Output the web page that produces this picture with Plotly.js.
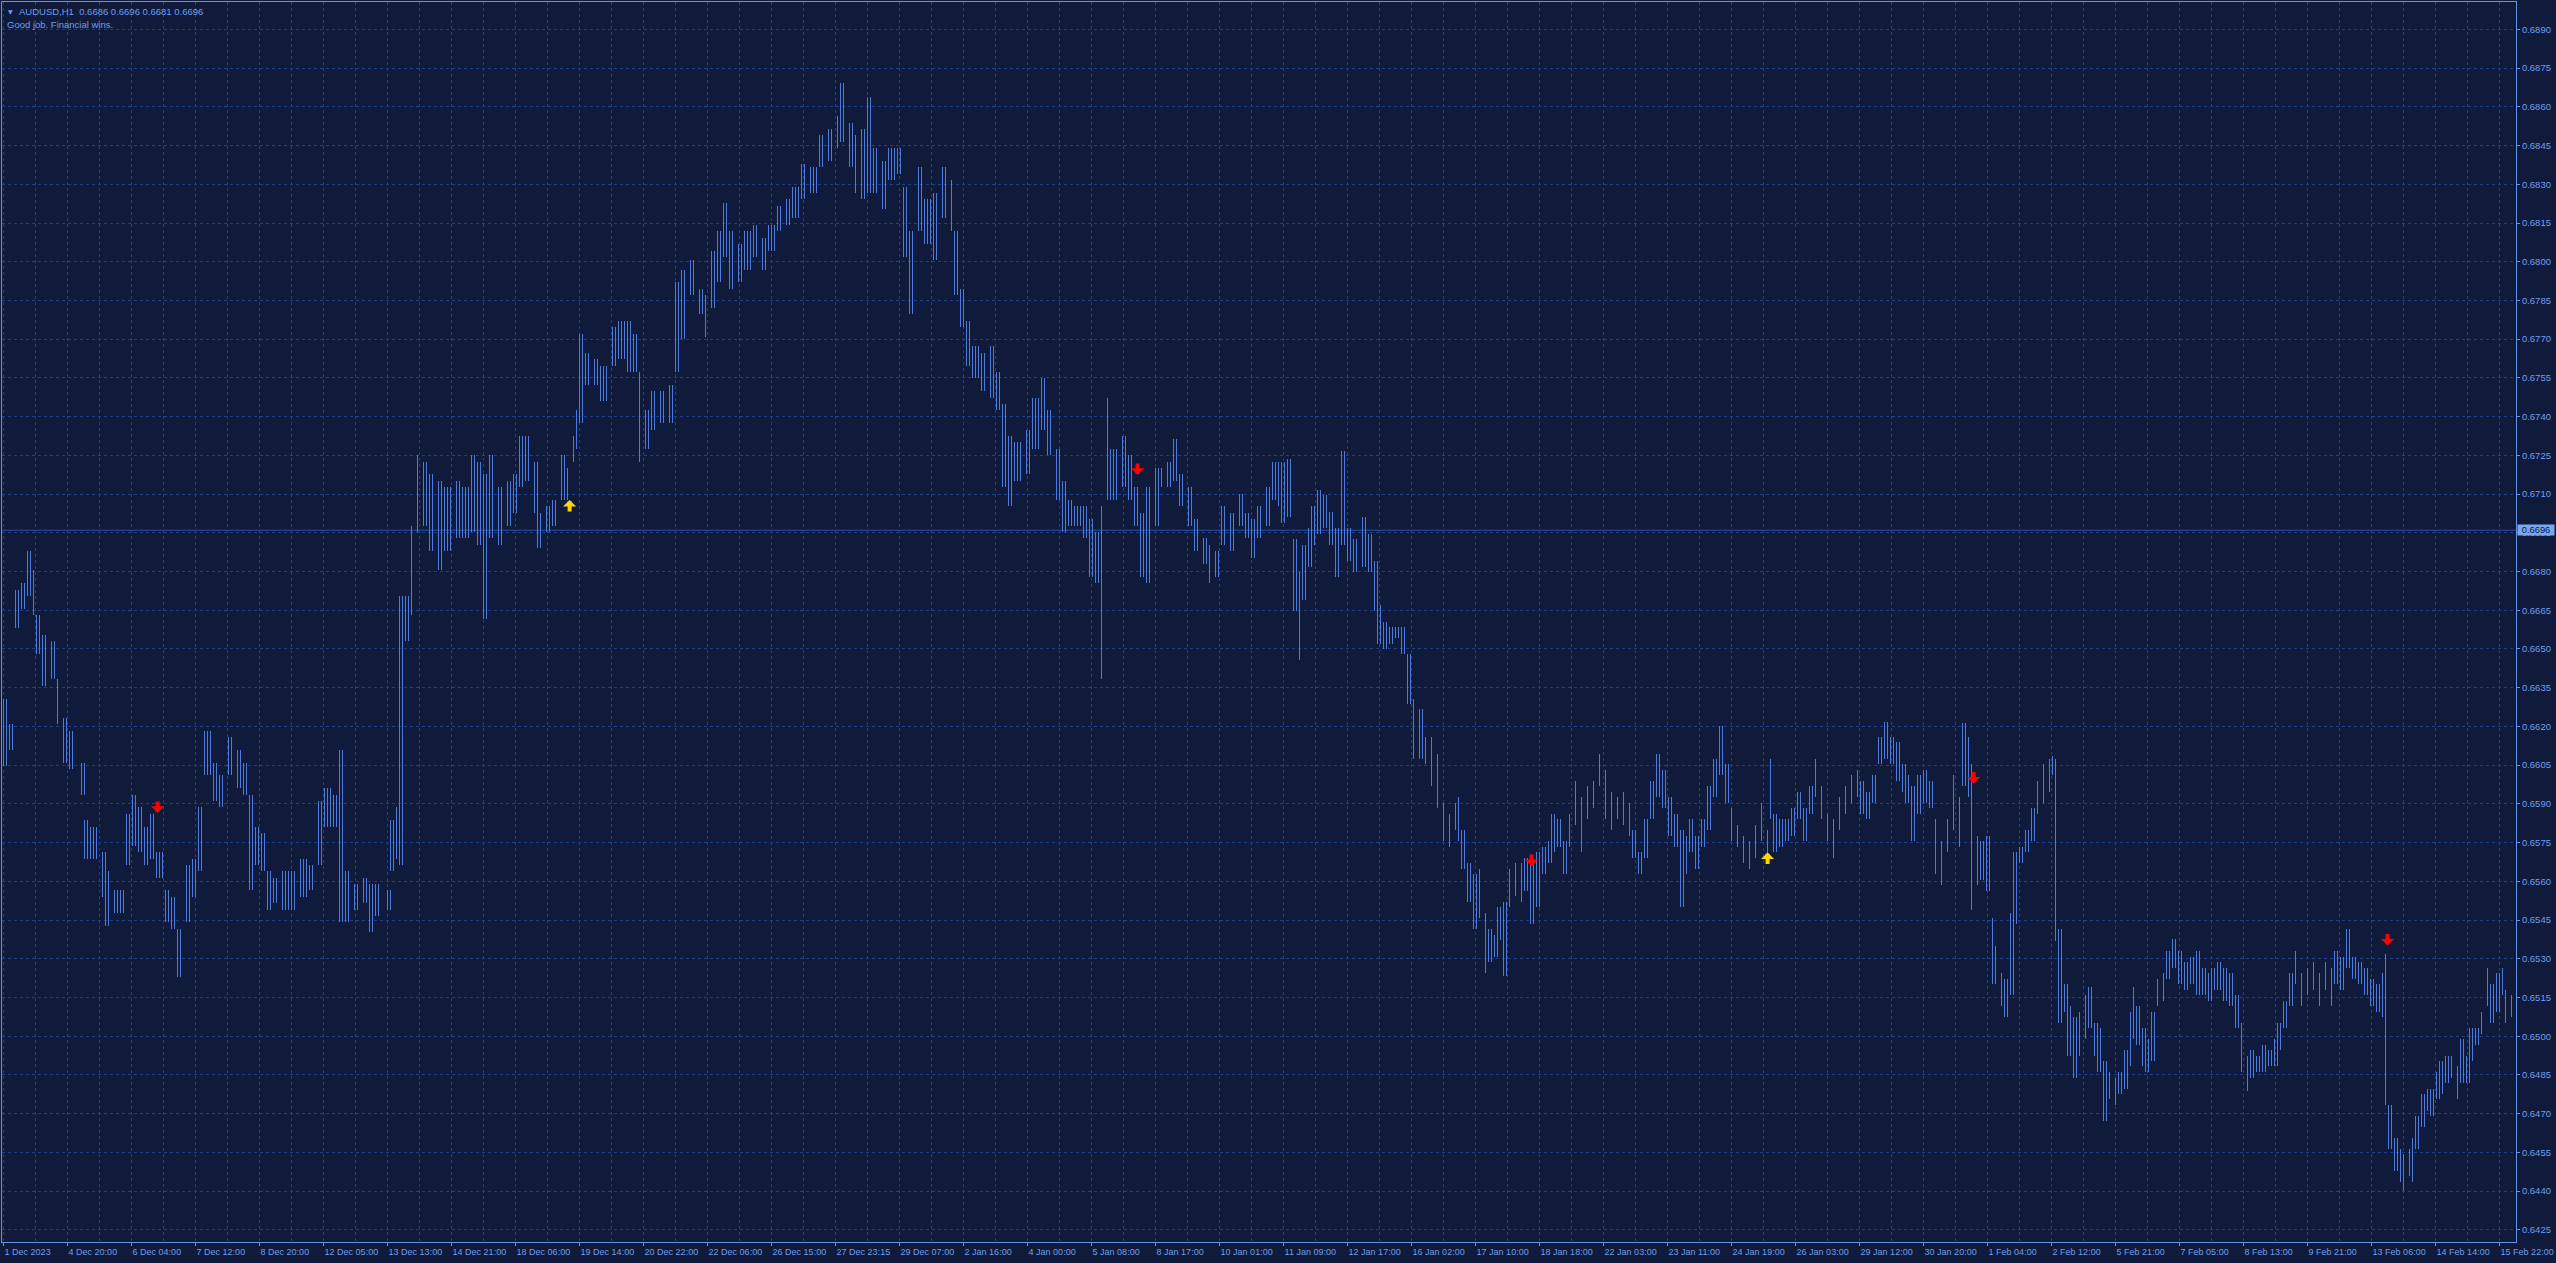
<!DOCTYPE html>
<html><head><meta charset="utf-8">
<script src="https://cdn.plot.ly/plotly-3.0.1.min.js"></script>
<style>html,body{margin:0;padding:0;background:#101a3a;overflow:hidden}#chart{width:2556px;height:1263px}</style>
</head><body><div id="chart"></div>
<script>
// ---- header / last bar ----
const symbolName = "AUDUSD,H1";
const lastOpen = 0.6686, lastHigh = 0.6696, lastLow = 0.6681, lastClose = 0.6696;
const lastPrice = 0.6696;
const commentText = "Good job. Financial wins.";

// ---- time axis labels (one every 32 hourly bars) ----
const xTickLabels = ["1 Dec 2023","4 Dec 20:00","6 Dec 04:00","7 Dec 12:00","8 Dec 20:00","12 Dec 05:00","13 Dec 13:00","14 Dec 21:00","18 Dec 06:00","19 Dec 14:00","20 Dec 22:00","22 Dec 06:00","26 Dec 15:00","27 Dec 23:15","29 Dec 07:00","2 Jan 16:00","4 Jan 00:00","5 Jan 08:00","8 Jan 17:00","10 Jan 01:00","11 Jan 09:00","12 Jan 17:00","16 Jan 02:00","17 Jan 10:00","18 Jan 18:00","22 Jan 03:00","23 Jan 11:00","24 Jan 19:00","26 Jan 03:00","29 Jan 12:00","30 Jan 20:00","1 Feb 04:00","2 Feb 12:00","5 Feb 21:00","7 Feb 05:00","8 Feb 13:00","9 Feb 21:00","13 Feb 06:00","14 Feb 14:00","15 Feb 22:00"];
const barsPerLabel = 32;

// ---- price axis labels ----
const yTickValues = [0.6425,0.6440,0.6455,0.6470,0.6485,0.6500,0.6515,0.6530,0.6545,0.6560,0.6575,0.6590,0.6605,0.6620,0.6635,0.6650,0.6665,0.6680,0.6695,0.6710,0.6725,0.6740,0.6755,0.6770,0.6785,0.6800,0.6815,0.6830,0.6845,0.6860,0.6875,0.6890];

// ---- price series: bar index of sample, sample high, sample low ----
const sampleBar = [0,4,7,10,13,15,17,20,24,27,30,34,39,41,45,50,52,56,59,62,65,68,71,74,78,82,85,88,92,95,98,102,106,109,113,118,121,124,127,130,133,136,140,144,150,154,158,162,166,169,172,176,180,183,187,192,194,197,199,202,204,207,210,214,218,222,227,231,235,238,241,244,248,252,255,259,262,266,268,272,275,279,282,285,287,289,292,296,300,305,309,313,316,318,321,325,329,333,336,340,344,348,351,354,358,361,364,368,372,376,380,384,388,392,396,400,405,409,413,417,419,423,426,429,433,436,440,444,448,451,454,458,462,466,470,474,476,479,482,486,490,494,497,500,503,507,512,516,520,523,527,530,533,537,541,544,547,549,552,555,560,563,566,569,572,576,579,582,586,589,593,596,600,603,606,610,614,618,621,625,628,632,635,638,
640,643,646,648,650,653,655,658,661,664,667,670,673,676,680,683,686,688,691,694,697,700,703,705,709,711,714,717,720,723,726,728,730,733,736,738,741,743,746,748,751,753,756,759,761,764,767,770,773,775,778,781,783,786,789,792,795,798,801,804,807,810,813,815,818,821,824,827,830,833,836,839,841,844,847,850,853,856,859,862,864,867,870,873,876,879,882,884,886,889,892,895,898,901,904,906,909,912,915,918,921,924,927,929,932,935,938,941,944,947,950,952,955,958,961,964,966,969,972,975,978,980,983,984,987,989,992,994,996,999,1001,1004,1006,1009,1012,1015,1017,1020,1023,1025,1026,1028,1031,1033,1036,1038,1041,1043,1046,1048,1051,1053,1056,1058,1061,1063,1065,1067,1070,1072,1075,1077,1080,1082,1085,1088,1091,1094,1097,1100,1103,1105,1108,1111,1114,1117,1119,1122,1124,1127,1130,1133,1136,1138,1141,1144,1146,1149,1152,1155,1158,1161,1164,1166,1169,1172,1175,1178,1181,1184,1187,1189,1191,1193,1196,1198,1200,1203,1205,1207,1210,1212,1214,1217,1219,1222,1224,1227,1229,1232,1234,1237,1239,1242,1244,1247,1249,1251,1254];

const sampleHigh = [0.66308,0.66209,0.66730,0.66754,0.66878,0.66804,0.66630,0.66556,0.66531,0.66383,0.66234,0.66184,0.66060,0.65837,0.65812,0.65713,0.65639,0.65565,0.65565,0.65862,0.65936,0.65887,0.65812,0.65862,0.65713,0.65565,0.65540,0.65416,0.65664,0.65688,0.65887,0.66184,0.66060,0.66011,0.66159,0.66110,0.66060,0.65936,0.65812,0.65787,0.65639,0.65614,0.65639,0.65639,0.65688,0.65664,0.65911,0.65961,0.65936,0.66110,0.65639,0.65589,0.65614,0.65589,0.65589,0.65565,0.65837,0.65887,0.66705,0.66705,0.66978,0.67250,0.67225,0.67176,0.67151,0.67126,0.67151,0.67126,0.67250,0.67225,0.67176,0.67250,0.67126,0.67151,0.67176,0.67325,0.67325,0.67225,0.67027,0.67052,0.67077,0.67250,0.67201,0.67325,0.67424,0.67721,0.67647,0.67622,0.67597,0.67746,0.67771,0.67771,0.67721,0.67572,0.67424,0.67498,0.67498,0.67523,0.67920,0.67969,0.68006,0.67895,0.67870,0.68043,0.68118,0.68229,0.68118,0.68068,0.68118,0.68143,0.68093,0.68143,0.68217,0.68242,0.68291,0.68378,0.68366,0.68490,0.68514,0.68564,0.68693,0.68539,0.68490,0.68514,0.68638,0.68440,0.68391,0.68440,0.68440,0.68291,0.68118,0.68366,0.68242,0.68267,0.68366,0.68316,0.68118,0.67895,0.67771,0.67672,0.67647,0.67672,0.67572,0.67449,0.67325,0.67300,0.67350,0.67473,0.67550,0.67424,0.67275,0.67151,0.67077,0.67052,0.67052,0.67002,0.66953,0.67052,0.67473,0.67275,0.67325,0.67250,0.67126,0.67027,0.67126,0.67201,0.67201,0.67225,0.67312,0.67176,0.67126,0.67002,0.66928,0.66903,0.66878,0.67052,0.67027,0.67102,0.67027,0.67002,0.67052,0.67126,0.67225,0.67225,
0.67223,0.67234,0.66925,0.66798,0.66904,0.66968,0.67053,0.67117,0.67096,0.67032,0.66968,0.67266,0.66968,0.66925,0.67011,0.66947,0.66840,0.66670,0.66606,0.66585,0.66585,0.66585,0.66479,0.66308,0.66266,0.66159,0.66159,0.66095,0.65904,0.65861,0.65904,0.65925,0.65798,0.65670,0.65627,0.65649,0.65478,0.65415,0.65393,0.65500,0.65521,0.65649,0.65670,0.65670,0.65691,0.65670,0.65712,0.65734,0.65755,0.65861,0.65840,0.65755,0.65861,0.65989,0.65925,0.65968,0.65989,0.66095,0.66031,0.65946,0.65925,0.65946,0.65904,0.65798,0.65712,0.65840,0.65989,0.66095,0.66031,0.65925,0.65861,0.65798,0.65776,0.65840,0.65776,0.65840,0.65968,0.66074,0.66202,0.66053,0.65883,0.65819,0.65776,0.65755,0.65819,0.65904,0.65798,0.66074,0.65861,0.65840,0.65840,0.65883,0.65946,0.65883,0.65968,0.66074,0.65968,0.65861,0.65840,0.65925,0.65968,0.66010,0.66031,0.65989,0.65946,0.66010,0.66159,0.66219,0.66159,0.66138,0.66053,0.66010,0.65968,0.66010,0.66031,0.65989,0.65840,0.65755,0.65840,0.66010,0.65925,0.66212,0.66159,0.66053,0.65776,0.65755,0.65776,0.65457,0.65351,0.65244,0.65223,0.65478,0.65712,0.65734,0.65798,0.65883,0.65989,0.66053,0.66074,0.66084,0.66074,0.65415,0.65202,0.65117,0.65074,0.65095,0.65159,0.65191,0.65053,0.65032,0.64904,0.64861,0.64840,0.64861,0.64946,0.65095,0.65191,0.65117,0.65032,0.64989,0.65095,0.65223,0.65244,0.65329,0.65378,0.65329,0.65287,0.65308,0.65329,0.65266,0.65244,0.65266,0.65287,0.65266,0.65244,0.65159,0.65053,0.64925,0.64946,0.64925,0.64968,0.64946,0.64989,0.65053,0.65138,0.65244,0.65329,0.65244,0.65266,0.65287,0.65244,0.65287,0.65266,0.65329,0.65308,0.65415,0.65308,0.65287,0.65266,0.65223,0.65202,0.65244,0.65319,0.64734,0.64606,0.64563,0.64542,0.64563,0.64606,0.64691,0.64776,0.64797,0.64797,0.64861,0.64904,0.64925,0.64925,0.64883,0.64989,0.64925,0.65032,0.65032,0.65095,0.65266,0.65202,0.65244,0.65266,0.65181,0.65159];

const sampleLow = [0.66048,0.66110,0.66580,0.66655,0.66705,0.66630,0.66482,0.66358,0.66383,0.66209,0.66060,0.66035,0.65936,0.65688,0.65688,0.65540,0.65428,0.65478,0.65478,0.65664,0.65738,0.65713,0.65664,0.65688,0.65614,0.65441,0.65416,0.65230,0.65441,0.65540,0.65639,0.66011,0.65911,0.65887,0.66011,0.65961,0.65936,0.65565,0.65664,0.65639,0.65490,0.65515,0.65490,0.65490,0.65540,0.65565,0.65664,0.65812,0.65812,0.65441,0.65441,0.65490,0.65515,0.65403,0.65466,0.65490,0.65639,0.65688,0.65664,0.66531,0.66630,0.66953,0.66978,0.66878,0.66804,0.66878,0.66928,0.66928,0.66953,0.66903,0.66618,0.66928,0.66903,0.66978,0.67027,0.67126,0.67151,0.67027,0.66891,0.66953,0.66978,0.67077,0.67077,0.67225,0.67275,0.67374,0.67523,0.67523,0.67461,0.67597,0.67622,0.67572,0.67572,0.67225,0.67275,0.67350,0.67374,0.67374,0.67572,0.67700,0.67870,0.67796,0.67709,0.67820,0.67920,0.68018,0.67895,0.67920,0.67969,0.68018,0.67969,0.68043,0.68118,0.68143,0.68168,0.68242,0.68267,0.68366,0.68391,0.68440,0.68465,0.68366,0.68267,0.68242,0.68267,0.68267,0.68205,0.68316,0.68341,0.68018,0.67796,0.68118,0.68068,0.68006,0.68168,0.68118,0.67870,0.67746,0.67597,0.67550,0.67498,0.67473,0.67424,0.67126,0.67052,0.67151,0.67176,0.67275,0.67350,0.67250,0.67077,0.66953,0.66978,0.66978,0.66928,0.66779,0.66754,0.66383,0.67077,0.67077,0.67126,0.67077,0.66978,0.66779,0.66754,0.66978,0.67126,0.67126,0.67151,0.67052,0.66978,0.66878,0.66829,0.66754,0.66779,0.66903,0.66878,0.66978,0.66928,0.66853,0.66928,0.66978,0.67077,0.67052,
0.66989,0.67011,0.66649,0.66457,0.66691,0.66819,0.66904,0.66947,0.66968,0.66904,0.66777,0.66904,0.66840,0.66798,0.66819,0.66798,0.66649,0.66521,0.66500,0.66521,0.66543,0.66479,0.66287,0.66074,0.66074,0.66053,0.65968,0.65883,0.65755,0.65734,0.65798,0.65755,0.65649,0.65521,0.65415,0.65457,0.65244,0.65287,0.65308,0.65372,0.65234,0.65500,0.65542,0.65521,0.65564,0.65436,0.65500,0.65627,0.65670,0.65712,0.65734,0.65627,0.65734,0.65819,0.65712,0.65840,0.65883,0.65968,0.65840,0.65798,0.65840,0.65819,0.65776,0.65691,0.65627,0.65691,0.65840,0.65925,0.65883,0.65776,0.65734,0.65500,0.65627,0.65712,0.65649,0.65734,0.65798,0.65925,0.66010,0.65904,0.65755,0.65734,0.65670,0.65649,0.65691,0.65755,0.65691,0.65840,0.65712,0.65734,0.65755,0.65776,0.65840,0.65755,0.65861,0.65925,0.65840,0.65755,0.65691,0.65798,0.65861,0.65904,0.65925,0.65861,0.65840,0.65904,0.66053,0.66074,0.66053,0.65989,0.65946,0.65904,0.65755,0.65861,0.65904,0.65883,0.65627,0.65585,0.65712,0.65798,0.65734,0.65968,0.65925,0.65489,0.65585,0.65606,0.65564,0.65202,0.65202,0.65117,0.65074,0.65159,0.65436,0.65670,0.65712,0.65755,0.65861,0.65904,0.65946,0.66010,0.65370,0.65053,0.65095,0.64925,0.64840,0.64925,0.64989,0.65032,0.64925,0.64861,0.64670,0.64755,0.64734,0.64776,0.64797,0.64883,0.64989,0.64968,0.64883,0.64861,0.64904,0.65117,0.65138,0.65223,0.65266,0.65202,0.65181,0.65202,0.65159,0.65159,0.65138,0.65181,0.65181,0.65138,0.65117,0.65032,0.64861,0.64787,0.64840,0.64861,0.64861,0.64883,0.64883,0.64946,0.65032,0.65117,0.65202,0.65117,0.65159,0.65181,0.65117,0.65181,0.65117,0.65202,0.65181,0.65266,0.65223,0.65202,0.65159,0.65117,0.65095,0.65074,0.64734,0.64563,0.64478,0.64436,0.64400,0.64457,0.64436,0.64563,0.64649,0.64712,0.64691,0.64755,0.64776,0.64819,0.64840,0.64755,0.64819,0.64819,0.64904,0.64968,0.65010,0.65117,0.65053,0.65095,0.65159,0.65053,0.65074];

// ---- signal arrows (bar index, arrow tip price) ----
const sellBar = [77, 567, 764, 985, 1192];
const sellPrice = [0.65865, 0.67174, 0.65659, 0.65979, 0.65351];
const buyBar = [283, 882];
const buyPrice = [0.67077, 0.65712];

// ---- styling ----
const BG = "#101a3a";
const GRID = "#213f86";
const AXIS = "#6593e6";
const TEXT = "#6f9ff0";
const BARC = "#4b7be0";
const FONT = "Liberation Sans, Arial, sans-serif";

// each sample is a block of hourly bars spanning its high-low range; a vertical-line
// pattern gives it the look of individual 1px bars
const n = sampleBar.length;
const widths = [], offsets = [];
for (let i = 0; i < n; i++) {
  const left = i === 0 ? 1.5 : (sampleBar[i] - sampleBar[i - 1]) / 2;
  const right = i === n - 1 ? 1.5 : (sampleBar[i + 1] - sampleBar[i]) / 2;
  const w = (left + right) * 0.85;
  widths.push(w);
  offsets.push(-w / 2);
}
const spans = sampleHigh.map((h, i) => h - sampleLow[i]);

const priceTrace = {
  type: "bar", x: sampleBar, y: spans, base: sampleLow,
  width: widths, offset: offsets,
  marker: { color: "rgba(0,0,0,0)", line: { width: 0 },
    pattern: { shape: "|", size: 3, solidity: 0.34, fgcolor: BARC, fgopacity: 1, bgcolor: "rgba(0,0,0,0)", fillmode: "overlay" } },
  hoverinfo: "skip", showlegend: false
};

const xTickVals = xTickLabels.map((_, i) => i * barsPerLabel);
const xMinorVals = xTickLabels.map((_, i) => i * barsPerLabel + barsPerLabel / 2);

const annotations = [];
sellBar.forEach((b, i) => annotations.push({
  x: b, y: sellPrice[i], xref: "x", yref: "y", text: "", showarrow: true,
  ax: 0, ay: -13, arrowhead: 1, arrowsize: 0.55, arrowwidth: 4, arrowcolor: "#ff0000", standoff: 0
}));
buyBar.forEach((b, i) => annotations.push({
  x: b, y: buyPrice[i], xref: "x", yref: "y", text: "", showarrow: true,
  ax: 0, ay: 13, arrowhead: 1, arrowsize: 0.55, arrowwidth: 4, arrowcolor: "#ffd400", standoff: 0
}));
annotations.push({
  xref: "paper", yref: "paper", x: 0, y: 1, xanchor: "left", yanchor: "middle",
  xshift: 4, yshift: -9, showarrow: false, text: "▼",
  font: { family: "DejaVu Sans", size: 6, color: TEXT }
});
annotations.push({
  xref: "paper", yref: "paper", x: 0, y: 1, xanchor: "left", yanchor: "middle",
  xshift: 15, yshift: -9, showarrow: false,
  text: symbolName + "\u00a0\u00a0" + [lastOpen, lastHigh, lastLow, lastClose].map(v => v.toFixed(4)).join(" "),
  font: { family: FONT, size: 9.5, color: TEXT }
});
annotations.push({
  xref: "paper", yref: "paper", x: 0, y: 1, xanchor: "left", yanchor: "middle",
  xshift: 3, yshift: -22, showarrow: false, text: commentText,
  font: { family: FONT, size: 9.5, color: TEXT }
});
annotations.push({
  xref: "paper", yref: "y", x: 1, y: lastPrice, xanchor: "left", yanchor: "middle",
  xshift: 1, showarrow: false, text: lastPrice.toFixed(4),
  bgcolor: "#78a6f2", borderpad: 0, width: 36, height: 10,
  font: { family: FONT, size: 9.3, color: "#0e1838" }
});

const layout = {
  width: 2556, height: 1263,
  margin: { l: 2, r: 40, t: 2, b: 21 },
  paper_bgcolor: BG, plot_bgcolor: BG,
  showlegend: false, bargap: 0, barmode: "overlay",
  xaxis: {
    range: [-0.8, 1256.2], fixedrange: true, zeroline: false, automargin: false,
    showline: true, mirror: true, linecolor: AXIS, linewidth: 1,
    showgrid: true, gridcolor: GRID, gridwidth: 1, griddash: "3px,3px",
    tickmode: "array", tickvals: xTickVals, ticktext: xTickLabels, tickangle: 0,
    ticks: "outside", ticklen: 3, tickcolor: AXIS, tickwidth: 1,
    ticklabelposition: "outside right", ticklabelstandoff: 1,
    tickfont: { family: FONT, size: 9, color: TEXT },
    minor: { tickmode: "array", tickvals: xMinorVals, showgrid: true, gridcolor: GRID, gridwidth: 1, griddash: "3px,3px", ticks: "" }
  },
  yaxis: {
    side: "right", range: [0.64203, 0.69006], fixedrange: true, zeroline: false, automargin: false,
    showline: true, mirror: true, linecolor: AXIS, linewidth: 1,
    showgrid: true, gridcolor: GRID, gridwidth: 1, griddash: "3px,3px",
    tickmode: "array", tickvals: yTickValues, tickformat: ".4f",
    ticks: "outside", ticklen: 3, tickcolor: AXIS, tickwidth: 1,
    tickfont: { family: FONT, size: 9.5, color: TEXT }
  },
  shapes: [{
    type: "line", xref: "paper", x0: 0, x1: 1, yref: "y", y0: lastPrice, y1: lastPrice,
    line: { color: "#2d52a3", width: 1 }, layer: "below"
  }],
  annotations: annotations
};

Plotly.newPlot("chart", [priceTrace], layout, { displayModeBar: false, staticPlot: true });
</script>
</body></html>
